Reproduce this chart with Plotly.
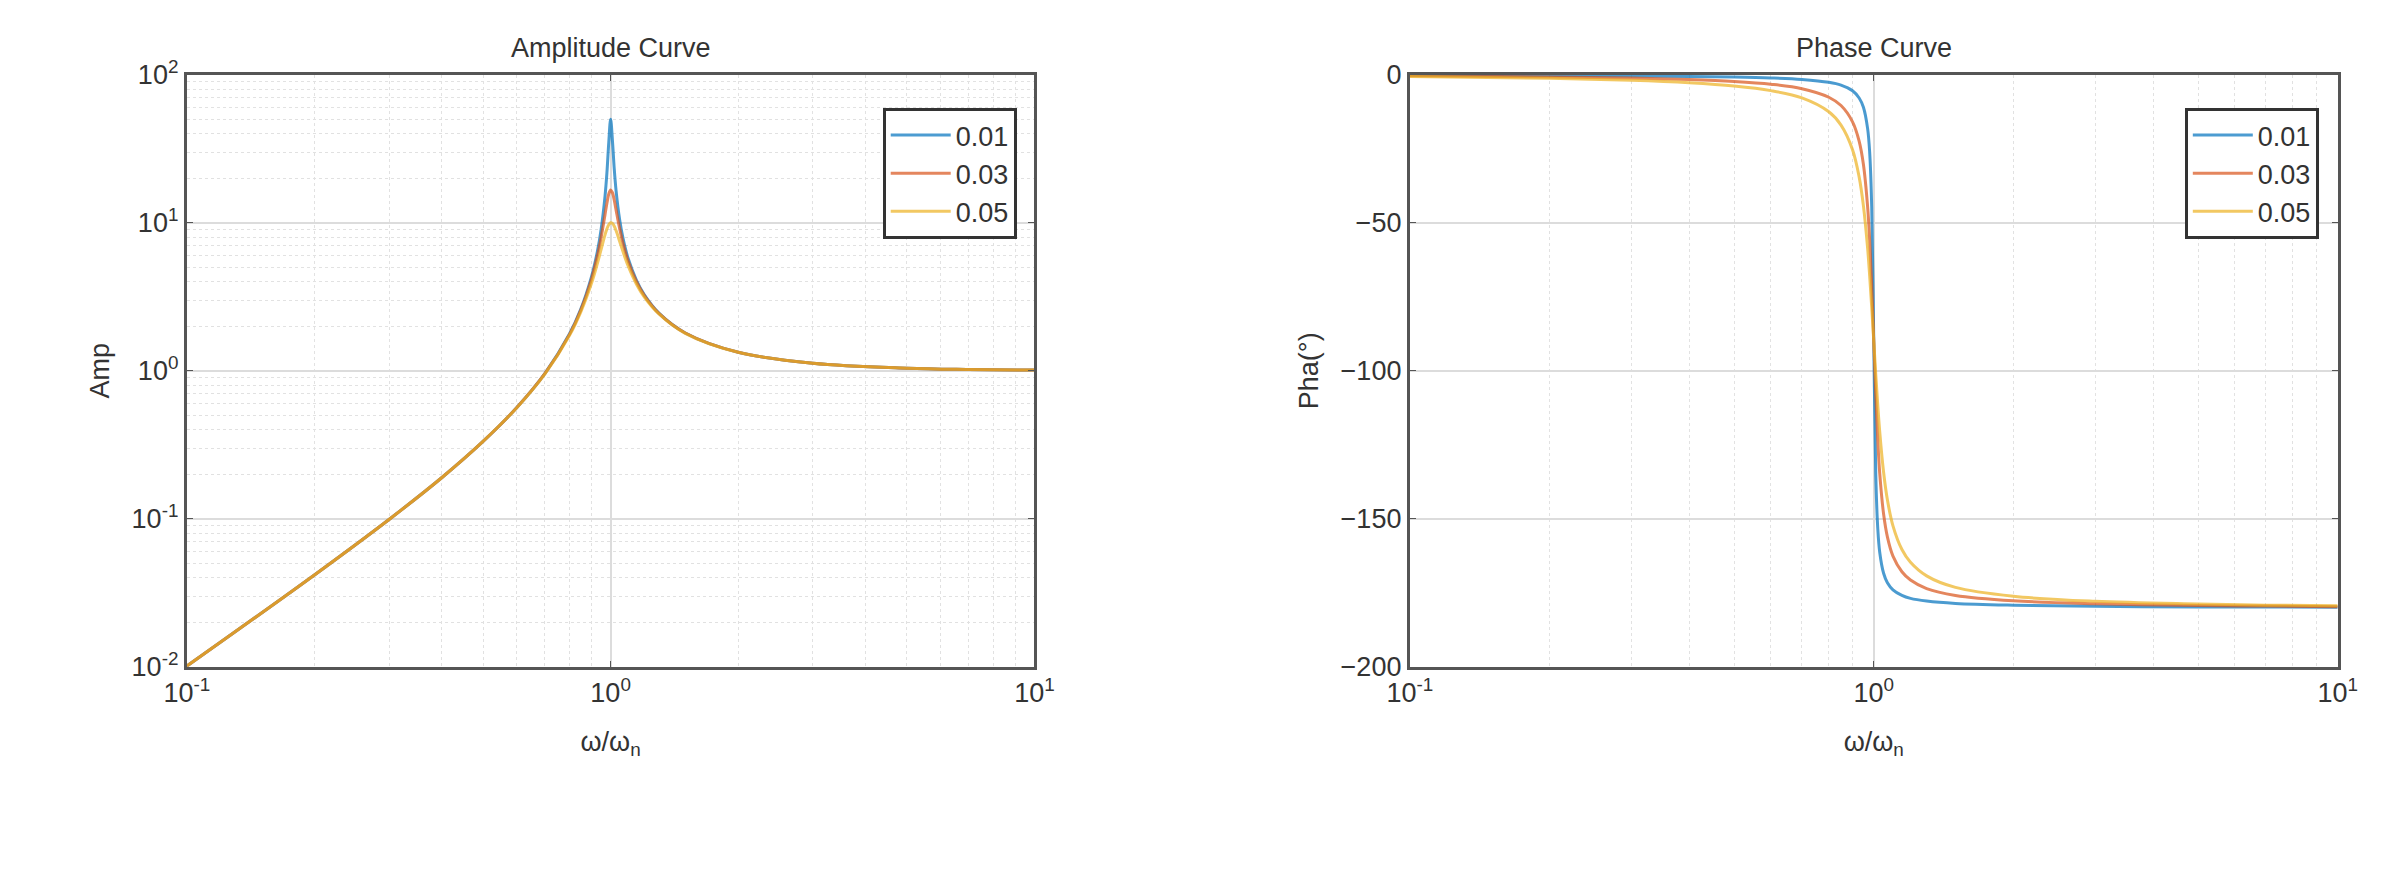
import plotly.graph_objects as go

ratio = [0.1, 0.2, 0.3, 0.4, 0.5, 0.6, 0.7, 0.8, 0.85, 0.9, 0.93, 0.95, 0.97, 0.98, 0.99, 1.0,
         1.01, 1.02, 1.03, 1.05, 1.07, 1.1, 1.15, 1.2, 1.3, 1.5, 2, 3, 5, 7, 10]
zetas = ["0.01", "0.03", "0.05"]

amp_001 = [0.0101, 0.0417, 0.0989, 0.190, 0.333, 0.5625, 0.961, 1.777, 2.60, 4.26, 6.34, 9.09, 15.1, 21.7, 34.9, 50.0,
           35.8, 23.0, 16.5, 10.54, 7.82, 5.73, 4.10, 3.27, 2.449, 1.80, 1.333, 1.125, 1.0417, 1.0208, 1.0101]
amp_003 = [0.0101, 0.0417, 0.0989, 0.190, 0.333, 0.5622, 0.959, 1.762, 2.56, 4.10, 5.92, 7.99, 11.35, 13.55, 15.65, 16.67,
           15.98, 14.19, 12.22, 9.16, 7.22, 5.50, 4.01, 3.23, 2.44, 1.80, 1.333, 1.125, 1.0417, 1.0208, 1.0101]
amp_005 = [0.0101, 0.0417, 0.0989, 0.190, 0.333, 0.561, 0.952, 1.735, 2.49, 3.85, 5.27, 6.63, 8.28, 9.09, 9.70, 10.0,
           9.90, 9.48, 8.86, 7.51, 6.36, 5.10, 3.86, 3.16, 2.42, 1.79, 1.332, 1.125, 1.0417, 1.0208, 1.0101]

pha_001 = [-0.12, -0.24, -0.38, -0.55, -0.76, -1.07, -1.57, -2.54, -3.5, -5.41, -7.84, -11.0, -18.2, -26.3, -44.9, -90,
           -135.1, -153.2, -161.3, -168.4, -171.6, -174.0, -175.9, -176.9, -177.8, -178.6, -179.2, -179.6, -179.8, -179.8, -179.9]
pha_003 = [-0.35, -0.72, -1.13, -1.64, -2.29, -3.22, -4.71, -7.59, -10.4, -15.9, -22.4, -30.3, -44.6, -56.0, -71.5, -90,
           -108.4, -123.4, -134.6, -148.4, -156.1, -162.6, -167.9, -170.7, -173.6, -175.9, -177.7, -178.7, -179.3, -179.5, -179.7]
pha_005 = [-0.58, -1.19, -1.89, -2.73, -3.81, -5.36, -7.82, -12.5, -17.0, -25.3, -34.5, -44.3, -58.6, -68.0, -78.6, -90,
           -101.3, -111.6, -120.6, -134.3, -143.6, -152.4, -160.4, -164.7, -169.3, -173.2, -176.2, -177.9, -178.8, -179.2, -179.4]

x_ticks = [0.1, 1, 10]
x_ticktext = ["10<sup>-1</sup>", "10<sup>0</sup>", "10<sup>1</sup>"]
amp_ticks = [0.01, 0.1, 1, 10, 100]
amp_ticktext = ["10<sup>-2</sup>", "10<sup>-1</sup>", "10<sup>0</sup>", "10<sup>1</sup>", "10<sup>2</sup>"]
pha_ticks = [0, -50, -100, -150, -200]
x_minor = [m * d for d in (0.1, 1) for m in range(2, 10)]
amp_minor = [m * d for d in (0.01, 0.1, 1, 10) for m in range(2, 10)]

colors = ["#0072BD", "#D95319", "#EDB120"]
fig = go.Figure()
for name, a, p, c in zip(zetas, [amp_001, amp_003, amp_005], [pha_001, pha_003, pha_005], colors):
    fig.add_trace(go.Scatter(x=ratio, y=a, name=name, mode="lines", line=dict(color=c, width=3, shape="spline"),
                             opacity=0.7, xaxis="x", yaxis="y", legend="legend"))
    fig.add_trace(go.Scatter(x=ratio, y=p, name=name, mode="lines", line=dict(color=c, width=3, shape="spline"),
                             opacity=0.7, xaxis="x2", yaxis="y2", legend="legend2"))

font = dict(family="Liberation Sans, Arial", size=27, color="#333333")
axcommon = dict(showline=True, linecolor="#555", linewidth=3, mirror="ticks", ticks="inside", ticklen=6,
                tickcolor="#555", gridcolor="#dcdcdc", gridwidth=1.5, zeroline=False, tickfont=font)

def minor(vals):
    return dict(tickvals=vals, showgrid=True, gridcolor="#e2e2e2", griddash="dot", gridwidth=1, ticks="")

fig.update_layout(
    width=2404, height=887, paper_bgcolor="white", plot_bgcolor="white",
    margin=dict(l=0, r=0, t=0, b=0), font=font, showlegend=True,
    xaxis=dict(type="log", range=[-1, 1], domain=[0.066, 0.425], anchor="y", tickvals=x_ticks, ticktext=x_ticktext,
               minor=minor(x_minor), title=dict(text="ω/ω<sub>n</sub>", font=font, standoff=25), **axcommon),
    yaxis=dict(type="log", range=[-2, 2], domain=[0.25, 0.944], anchor="x", tickvals=amp_ticks, ticktext=amp_ticktext,
               minor=minor(amp_minor), title=dict(text="Amp", font=font, standoff=15), **axcommon),
    xaxis2=dict(type="log", range=[-1, 1], domain=[0.584, 0.977], anchor="y2", tickvals=x_ticks, ticktext=x_ticktext,
                minor=minor(x_minor), title=dict(text="ω/ω<sub>n</sub>", font=font, standoff=25), **axcommon),
    yaxis2=dict(range=[-200, 0], domain=[0.25, 0.944], anchor="x2", tickvals=pha_ticks,
                title=dict(text="Pha(°)", font=font, standoff=15), **axcommon),
    legend=dict(x=0.4175, y=0.905, xanchor="right", yanchor="top", bordercolor="#333", borderwidth=3,
                bgcolor="white", font=font, itemwidth=60),
    legend2=dict(x=0.969, y=0.905, xanchor="right", yanchor="top", bordercolor="#333", borderwidth=3,
                 bgcolor="white", font=font, itemwidth=60),
    annotations=[
        dict(text="Amplitude Curve", x=0.2455, y=0.955, xref="paper", yref="paper", showarrow=False,
             xanchor="center", yanchor="bottom", font=font),
        dict(text="Phase Curve", x=0.7805, y=0.955, xref="paper", yref="paper", showarrow=False,
             xanchor="center", yanchor="bottom", font=font),
    ],
)
fig.write_html("out.html")
